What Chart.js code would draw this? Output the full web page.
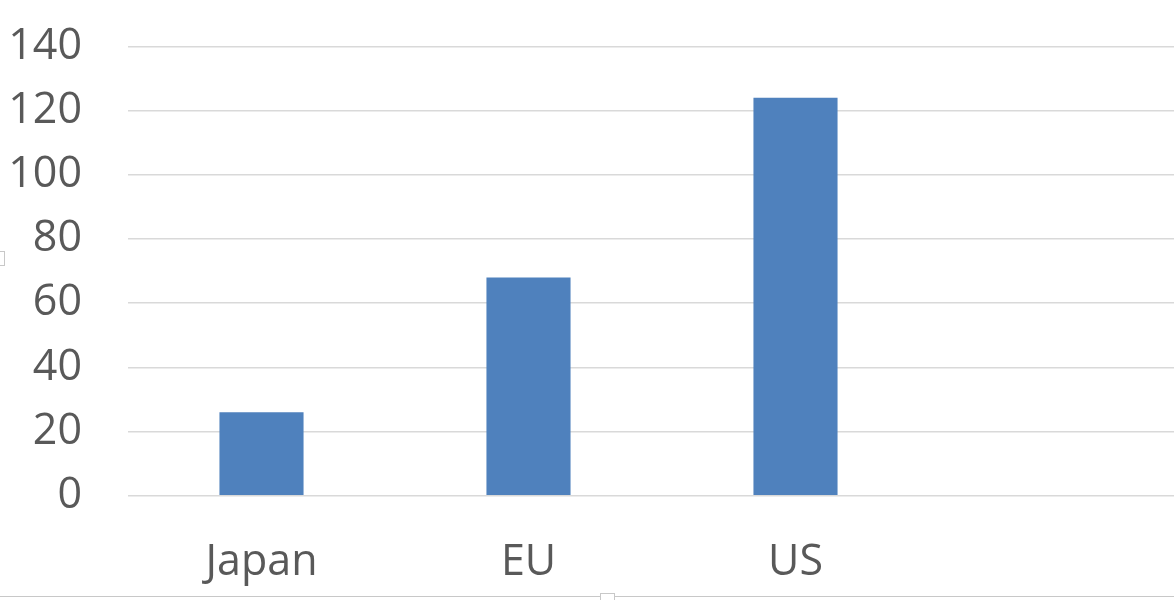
<!DOCTYPE html>
<html>
<head>
<meta charset="utf-8">
<script src="https://cdn.jsdelivr.net/npm/chart.js@4/dist/chart.umd.min.js"></script>
<style>
  html, body { margin: 0; padding: 0; background: #fff; overflow: hidden; width: 1174px; height: 600px; }
  #wrap { position: absolute; left: 0; top: 0; width: 1196px; height: 600px; }
  #frame { position: absolute; left: 0; top: 596px; width: 1174px; height: 0; border-top: 1.5px solid #c8c8c8; }
  #h1 { position: absolute; left: -4px; top: 251px; width: 7px; height: 13px; border: 1px solid #c8c8c8; background: #fff; }
  #h2 { position: absolute; left: 600px; top: 593px; width: 13px; height: 7px; border: 1px solid #c8c8c8; background: #fff; }
</style>
</head>
<body>
<div id="wrap"><canvas id="c" width="1196" height="600"></canvas></div>
<div id="frame"></div>
<div id="h1"></div>
<div id="h2"></div>
<script>
const categories = ['Japan', 'EU', 'US', ''];
const values = [26, 68, 124, null];
const yTicks = [0, 20, 40, 60, 80, 100, 120, 140];

const FONT = { family: "'Open Sans', 'Liberation Sans', sans-serif", size: 43 };
const TEXT = '#595959';

new Chart(document.getElementById('c'), {
  type: 'bar',
  data: {
    labels: categories,
    datasets: [{
      data: values,
      backgroundColor: '#4f81bd',
      borderWidth: 0,
      barPercentage: 0.315,
      categoryPercentage: 1
    }]
  },
  options: {
    responsive: false,
    animation: false,
    layout: { padding: { top: 46.5, left: 0, right: 0, bottom: 0 } },
    plugins: { legend: { display: false }, tooltip: { enabled: false } },
    scales: {
      x: {
        grid: { display: false, drawTicks: false },
        border: { display: false },
        ticks: { color: TEXT, font: FONT, padding: 41, maxRotation: 0, autoSkip: false },
        afterFit: s => { s.height = 104.3; s.paddingLeft = 0; s.paddingRight = 0; }
      },
      y: {
        min: 0, max: 140,
        afterBuildTicks: s => { s.ticks = yTicks.map(v => ({ value: v })); },
        grid: { color: '#d9d9d9', lineWidth: 1.5, drawTicks: false },
        border: { display: false },
        ticks: { color: TEXT, font: FONT, padding: 46 },
        afterFit: s => { s.width = 128; s.paddingTop = 0; s.paddingBottom = 0; }
      }
    }
  }
});
</script>
</body>
</html>
